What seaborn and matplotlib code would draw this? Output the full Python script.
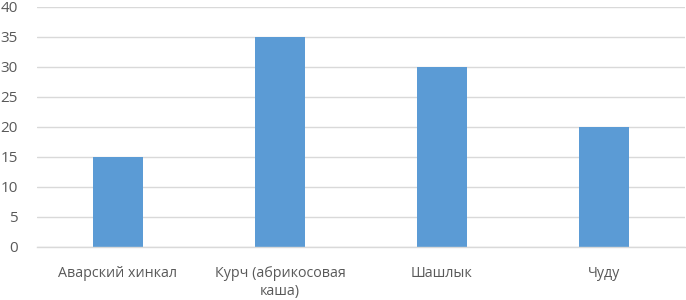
import matplotlib
matplotlib.use("Agg")
import matplotlib.pyplot as plt
import seaborn as sns
import pandas as pd

categories = ["Аварский хинкал", "Курч (абрикосовая\nкаша)", "Шашлык", "Чуду"]
values = [15, 35, 30, 20]
yticks = [0, 5, 10, 15, 20, 25, 30, 35, 40]

sns.set_theme(style="white")
plt.rcParams['font.family'] = ['Open Sans', 'DejaVu Sans']

df = pd.DataFrame({"cat": categories, "val": values})

fig = plt.figure(figsize=(6.86, 3.0), dpi=100)
ax = fig.add_axes([37/686, 1-247/300, 648/686, 240/300])
sns.barplot(data=df, x="cat", y="val", color="#5B9BD5", saturation=1, width=0.31,
            linewidth=0, ax=ax)
ax.set_ylim(0, 40)
ax.set_yticks(yticks)
ax.yaxis.grid(True, color="#D9D9D9", linewidth=1)
ax.set_axisbelow(True)
for s in ["top", "right", "left"]:
    ax.spines[s].set_visible(False)
ax.spines["bottom"].set_color("#D9D9D9")
ax.spines["bottom"].set_linewidth(1)
ax.set_xlabel("")
ax.set_ylabel("")
ax.tick_params(axis="both", length=0, colors="#595959")
ax.tick_params(axis="y", pad=14, labelsize=11)
ax.tick_params(axis="x", pad=14, labelsize=10.3)
fig.savefig("out.png", dpi=100)
